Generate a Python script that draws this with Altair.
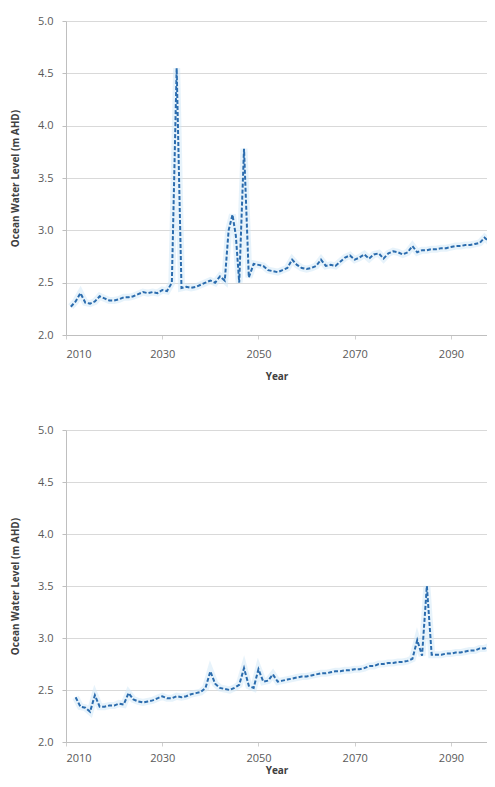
import altair as alt
import pandas as pd

# Top panel series
top_years = [2011, 2012, 2013, 2014, 2015, 2016, 2017, 2018, 2019, 2020,
             2021, 2022, 2023, 2024, 2025, 2026, 2027, 2028, 2029, 2030,
             2031, 2032, 2033, 2034, 2035, 2036, 2037, 2038, 2039, 2040,
             2041, 2042, 2043, 2043.8, 2044.6, 2045.3, 2046, 2047, 2048, 2049,
             2050, 2051, 2052, 2053, 2054, 2055, 2056, 2057, 2058, 2059,
             2060, 2061, 2062, 2063, 2064, 2065, 2066, 2067, 2068, 2069,
             2070, 2071, 2072, 2073, 2074, 2075, 2076, 2077, 2078, 2079,
             2080, 2081, 2082, 2083, 2084, 2085, 2086, 2087, 2088, 2089,
             2090, 2091, 2092, 2093, 2094, 2095, 2096, 2097, 2098, 2098.5]
top_values = [2.27, 2.32, 2.40, 2.31, 2.30, 2.32, 2.37, 2.35, 2.33, 2.33,
              2.34, 2.36, 2.36, 2.37, 2.39, 2.41, 2.40, 2.41, 2.40, 2.43,
              2.42, 2.50, 4.55, 2.45, 2.46, 2.45, 2.46, 2.48, 2.50, 2.52,
              2.50, 2.56, 2.52, 3.00, 3.15, 2.95, 2.50, 3.78, 2.55, 2.68,
              2.67, 2.66, 2.62, 2.61, 2.60, 2.62, 2.64, 2.72, 2.67, 2.64,
              2.63, 2.64, 2.66, 2.72, 2.66, 2.67, 2.66, 2.70, 2.74, 2.76,
              2.72, 2.74, 2.77, 2.73, 2.77, 2.78, 2.73, 2.78, 2.80, 2.79,
              2.77, 2.79, 2.85, 2.79, 2.81, 2.81, 2.82, 2.82, 2.83, 2.83,
              2.84, 2.85, 2.85, 2.86, 2.86, 2.87, 2.88, 2.93, 2.89, 2.88]

# Bottom panel series
bot_years = list(range(2012, 2100))
bot_values = [2.43, 2.34, 2.33, 2.29, 2.45, 2.34, 2.34, 2.35, 2.35, 2.37,
              2.36, 2.47, 2.41, 2.39, 2.38, 2.39, 2.40, 2.42, 2.44, 2.42,
              2.42, 2.44, 2.43, 2.44, 2.46, 2.47, 2.48, 2.52, 2.68, 2.56,
              2.52, 2.51, 2.50, 2.52, 2.55, 2.71, 2.54, 2.52, 2.70, 2.58,
              2.59, 2.65, 2.58, 2.59, 2.60, 2.61, 2.62, 2.63, 2.63, 2.64,
              2.65, 2.66, 2.66, 2.67, 2.68, 2.68, 2.69, 2.69, 2.70, 2.70,
              2.71, 2.73, 2.73, 2.75, 2.75, 2.76, 2.76, 2.77, 2.77, 2.78,
              2.80, 2.98, 2.83, 3.50, 2.84, 2.84, 2.84, 2.85, 2.85, 2.86,
              2.86, 2.87, 2.88, 2.88, 2.90, 2.90, 2.92, 2.93]

x_ticks = [2010, 2030, 2050, 2070, 2090]
y_ticks = [2.0, 2.5, 3.0, 3.5, 4.0, 4.5, 5.0]

FONT = "Open Sans"
LINE = "#2b6cae"


def panel(years, values, height, label_pad, title_pad):
    df = pd.DataFrame({"Year": years, "Level": values})
    x = alt.X("Year:Q",
              scale=alt.Scale(domain=[2010, 2097.5], nice=False, zero=False),
              axis=alt.Axis(values=x_ticks, format="d", title="Year", grid=False,
                            labelFont=FONT, labelFontSize=11, labelColor="#595959",
                            titleFont=FONT, titleFontSize=10, titleFontWeight="bold",
                            titleColor="#404040", titlePadding=title_pad,
                            domainColor="#bfbfbf", tickColor="#d0d0d0", tickSize=4,
                            labelPadding=label_pad))
    y = alt.Y("Level:Q",
              scale=alt.Scale(domain=[2.0, 5.0], nice=False, zero=False),
              axis=alt.Axis(values=y_ticks, format=".1f",
                            title="Ocean Water Level (m AHD)",
                            labelFont=FONT, labelFontSize=11, labelColor="#595959",
                            titleFont=FONT, titleFontSize=10, titleFontWeight="bold",
                            titleColor="#404040", titlePadding=17,
                            gridColor="#d9d9d9", domainColor="#bfbfbf",
                            tickColor="#bfbfbf", tickSize=4, labelPadding=9))
    base = alt.Chart(df).encode(x=x, y=y)
    glow = base.mark_line(color="#cfe7f8", strokeWidth=7, opacity=0.5, clip=True)
    line = base.mark_line(color=LINE, strokeWidth=2, strokeDash=[4, 2], clip=True)
    return alt.layer(glow, line).properties(width=421, height=height)


chart = alt.vconcat(panel(top_years, top_values, 314, 9, 12),
                    panel(bot_years, bot_values, 312, 6, 2),
                    spacing=43).properties(
    padding={"left": 2, "top": 7, "right": 0, "bottom": 0}
).configure_view(stroke=None)

chart.save("out.html", embed_options={"renderer": "svg", "actions": False})
